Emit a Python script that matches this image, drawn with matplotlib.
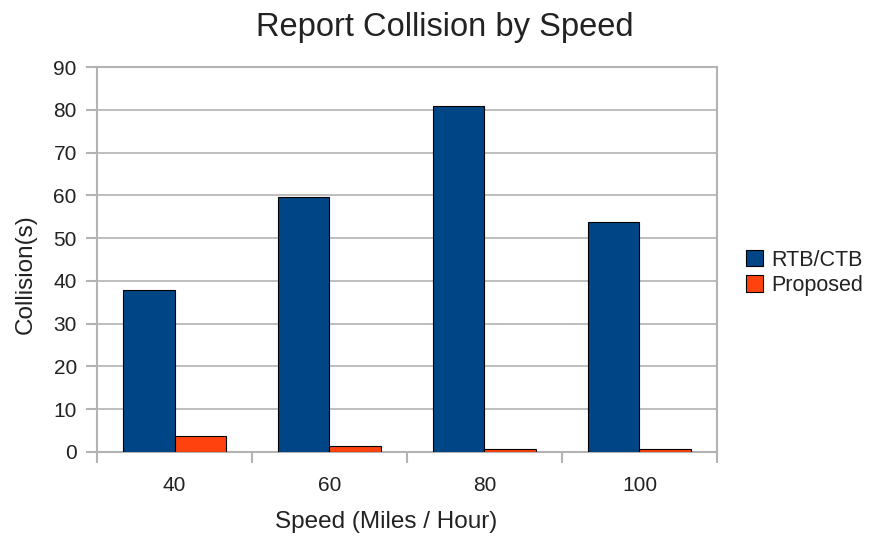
import numpy as np
import matplotlib.pyplot as plt

plt.rcParams['font.family'] = ['Liberation Sans', 'DejaVu Sans']

speeds = ['40', '60', '80', '100']
rtb_ctb = [37.8, 59.5, 80.8, 53.8]
proposed = [3.8, 1.5, 0.6, 0.8]

fig = plt.figure(figsize=(8.7, 5.37), dpi=100)
ax = fig.add_axes([0.1115, 0.1583, 0.7126, 0.7169])

x = np.arange(len(speeds))
w = 0.335
ax.bar(x - w / 2, rtb_ctb, w, color='#004586', edgecolor='black', linewidth=0.8,
       label='RTB/CTB', zorder=3)
ax.bar(x + w / 2, proposed, w, color='#ff420e', edgecolor='black', linewidth=0.8,
       label='Proposed', zorder=3)

ax.set_xlim(-0.5, len(speeds) - 0.5)
ax.set_ylim(0, 90)
ax.set_yticks(np.arange(0, 91, 10))
ax.set_xticks(x)
ax.set_xticklabels(speeds)
# tick marks sit at the category borders
ax.set_xticks(np.arange(-0.5, len(speeds), 1), minor=True)
ax.tick_params(axis='x', which='major', length=0, pad=17, labelsize=15, labelcolor='#222222')
ax.tick_params(axis='x', which='minor', length=8, color='#b3b3b3', width=1.5)
ax.tick_params(axis='y', length=8, color='#b3b3b3', width=1.5, labelsize=15, pad=6.5,
               labelcolor='#222222')

ax.grid(axis='y', color='#b3b3b3', linewidth=1.2, zorder=0)
for s in ax.spines.values():
    s.set_color('#b3b3b3')
    s.set_linewidth(1.5)

ax.set_xlabel('Speed (Miles / Hour)', fontsize=17.5, color='#222222')
ax.xaxis.set_label_coords(0.466, -0.152)
ax.set_ylabel('Collision(s)', fontsize=17.5, labelpad=12, color='#222222')
ax.yaxis.label.set_y(0.462)
fig.suptitle('Report Collision by Speed', fontsize=23.5, x=0.511, y=0.978, color='#222222')

ax.legend(loc='center left', bbox_to_anchor=(0.857, 0.492), bbox_transform=fig.transFigure,
          frameon=False, fontsize=15.5, handlelength=0.8, handleheight=0.8,
          handletextpad=0.4, labelspacing=0.2, borderpad=0, borderaxespad=0,
          labelcolor='#222222')

fig.savefig('out.png', dpi=100)
